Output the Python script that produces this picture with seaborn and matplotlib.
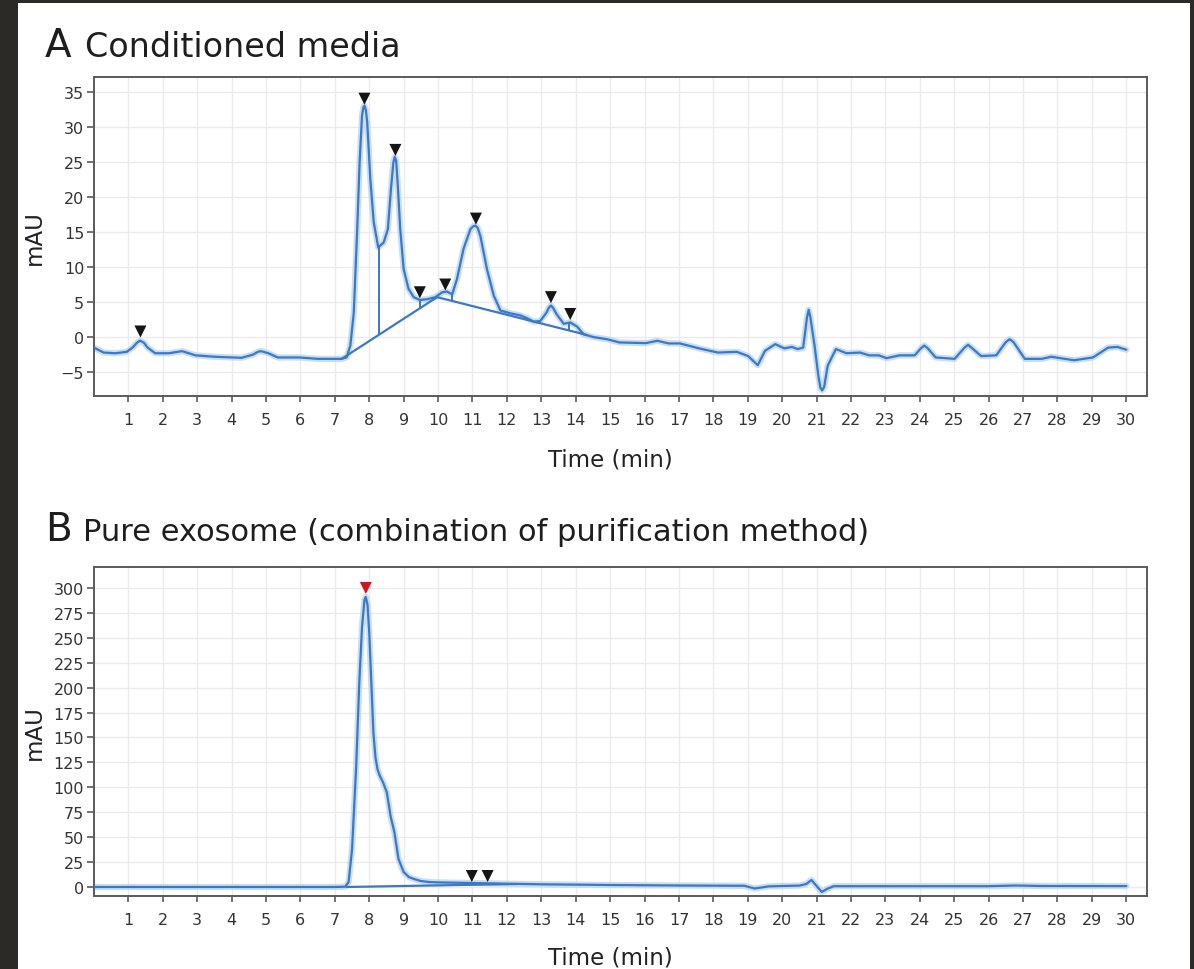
import matplotlib
matplotlib.use('Agg')
import matplotlib.pyplot as plt
import pandas as pd
import seaborn as sns
from matplotlib.patches import Rectangle

# Panel A - conditioned media trace (time in min, absorbance in mAU)
a_time = [0.0, 0.28, 0.62, 0.95, 1.12, 1.25, 1.34, 1.45, 1.56, 1.78, 2.17, 2.56, 2.95, 3.51,
          4.29, 4.62, 4.76, 4.84, 4.93, 5.07, 5.34, 5.96, 6.51, 7.18, 7.34, 7.45, 7.55, 7.65,
          7.72, 7.79, 7.83, 7.86, 7.9, 7.94, 8.03, 8.13, 8.26, 8.42, 8.54, 8.63, 8.7, 8.74,
          8.78, 8.83, 8.9, 9.0, 9.14, 9.29, 9.47, 9.68, 9.92, 10.12, 10.26, 10.41, 10.55,
          10.74, 10.94, 11.02, 11.08, 11.15, 11.23, 11.42, 11.62, 11.81, 12.1, 12.39, 12.59,
          12.78, 12.97, 13.15, 13.22, 13.28, 13.34, 13.44, 13.65, 13.84, 14.04, 14.23, 14.52,
          14.91, 15.27, 16.04, 16.37, 16.7, 17.03, 17.58, 18.13, 18.68, 19.01, 19.29, 19.5,
          19.8, 20.06, 20.28, 20.44, 20.61, 20.72, 20.77, 20.82, 20.94, 21.05, 21.11, 21.16,
          21.22, 21.32, 21.56, 21.87, 22.26, 22.53, 22.81, 23.03, 23.41, 23.85, 24.03, 24.13,
          24.23, 24.46, 25.01, 25.3, 25.4, 25.5, 25.78, 26.22, 26.5, 26.61, 26.72, 27.05,
          27.54, 27.82, 28.48, 29.03, 29.47, 29.74, 30.0]
a_mau = [-1.5, -2.2, -2.3, -2.1, -1.5, -0.8, -0.5, -0.8, -1.5, -2.3, -2.3, -2.0, -2.6, -2.8,
         -2.95, -2.5, -2.1, -2.0, -2.1, -2.3, -2.9, -2.9, -3.1, -3.1, -2.9, -1.2, 3.5, 15.4,
         25.0, 31.6, 32.8, 33.0, 32.4, 30.7, 22.6, 16.4, 12.8, 13.5, 15.4, 21.1, 24.9, 25.7,
         25.2, 21.6, 15.4, 9.7, 6.9, 5.7, 5.3, 5.4, 5.7, 6.4, 6.5, 6.1, 8.3,
         12.6, 15.4, 15.8, 15.9, 15.6, 14.4, 9.7, 5.9, 3.8, 3.4, 3.1, 2.7,
         2.2, 2.3, 3.5, 4.2, 4.5, 4.2, 3.3, 1.9, 2.1, 1.5, 0.4, 0.0,
         -0.3, -0.76, -0.86, -0.52, -0.9, -0.9, -1.6, -2.2, -2.1, -2.7, -4.0, -1.95,
         -1.0, -1.6, -1.4, -1.7, -1.5, 2.8, 3.9, 2.8, -1.2, -5.5, -7.2, -7.6,
         -7.1, -4.1, -1.7, -2.3, -2.2, -2.6, -2.6, -3.0, -2.6, -2.6, -1.6, -1.2,
         -1.6, -2.9, -3.1, -1.5, -1.1, -1.5, -2.7, -2.6, -0.7, -0.3, -0.7, -3.1,
         -3.1, -2.8, -3.3, -2.9, -1.5, -1.4, -1.8]

# integration baseline and peak separation lines (panel A)
a_base_time = [7.2, 9.97, 14.33]
a_base_mau = [-3.1, 5.7, 0.3]
a_drop_time = [8.28, 9.47, 10.41, 13.8]
a_drop_top = [12.8, 5.3, 6.1, 2.0]
a_drop_bottom = [0.4, 4.0, 4.95, 1.05]

# detected peak markers (panel A)
a_peak_time = [1.35, 7.86, 8.76, 9.47, 10.21, 11.1, 13.28, 13.84]
a_peak_mau = [0.8, 34.0, 26.7, 6.4, 7.5, 16.9, 5.7, 3.3]

# Panel B - pure exosome trace
b_time = [0.0, 2.0, 5.0, 7.0, 7.3, 7.4, 7.5, 7.62, 7.71, 7.79, 7.86, 7.9, 7.95, 8.0, 8.06,
          8.12, 8.18, 8.24, 8.3, 8.4, 8.51, 8.62, 8.73, 8.85, 9.0, 9.15, 9.3, 9.5, 9.73, 10.0,
          11.0, 12.0, 13.0, 15.0, 17.0, 18.9, 19.2, 19.4, 19.6, 20.0, 20.5, 20.7, 20.85,
          21.0, 21.15, 21.3, 21.5, 22.0, 26.0, 26.8, 27.5, 30.0]
b_mau = [0.0, 0.0, 0.0, 0.0, 0.3, 5.0, 38.0, 121.0, 205.0, 261.0, 288.0, 291.0, 283.0, 255.0,
         205.0, 155.0, 130.0, 118.0, 112.0, 105.0, 95.0, 71.0, 55.0, 28.0, 15.0, 10.0, 8.0,
         6.0, 5.0, 4.6, 4.0, 3.3, 2.7, 2.0, 1.5, 1.2, -1.5, -0.5, 0.6, 1.0, 1.4, 3.0, 7.0,
         1.0, -5.0, -2.0, 0.8, 0.8, 0.8, 1.5, 1.0, 0.9]
b_base_time = [7.35, 12.3]
b_base_mau = [0.0, 3.0]
b_peak_time = [7.9, 10.98, 11.44]
b_peak_mau = [300.0, 11.0, 11.0]
b_peak_color = ['#d4141c', '#151515', '#151515']

LINE = '#3b79c4'
HALO = '#bcd6f1'

sns.set_theme(style='whitegrid')
plt.rcParams['font.family'] = ['DejaVu Sans']

fig = plt.figure(figsize=(11.94, 9.70), dpi=100)
fig.patch.set_facecolor('#2b2a27')
fig.patches.append(Rectangle((18 / 1194, 0), (1190 - 18) / 1194, 1 - 4 / 970,
                             transform=fig.transFigure, facecolor='white',
                             edgecolor='none', zorder=-10))

ax_a = fig.add_axes([0.0787, 0.5907, 0.8819, 0.3289])
ax_b = fig.add_axes([0.0787, 0.0753, 0.8819, 0.3391])


def draw_trace(ax, t, v):
    sns.lineplot(x=t, y=v, ax=ax, color=HALO, lw=4.5, alpha=0.8, estimator=None, zorder=2)
    sns.lineplot(x=t, y=v, ax=ax, color=LINE, lw=1.6, estimator=None, zorder=3)


def style_axis(ax, ylim, yticks):
    ax.set_facecolor('white')
    ax.set_xlim(0, 30.6)
    ax.set_ylim(*ylim)
    ax.set_xticks(range(1, 31))
    ax.set_yticks(yticks)
    ax.grid(True, color='#ebebeb', lw=1.0)
    for sp in ax.spines.values():
        sp.set_visible(True)
        sp.set_color('#5a5a5a')
        sp.set_linewidth(1.4)
    ax.tick_params(axis='x', direction='out', length=4.5, width=1.2, color='#5a5a5a',
                   labelsize=11.5, labelcolor='#333333', pad=7, bottom=True)
    ax.tick_params(axis='y', direction='out', length=5, width=1.2, color='#5a5a5a',
                   labelsize=11.5, labelcolor='#333333', pad=2, left=True)
    ax.set_xlabel('Time (min)', fontsize=16.5, color='#222222')
    ax.set_ylabel('mAU', fontsize=16.5, color='#222222')
    ax.yaxis.set_label_coords(-0.046, 0.5)


# Panel A
draw_trace(ax_a, a_time, a_mau)
ax_a.plot(a_base_time, a_base_mau, color=LINE, lw=1.6, zorder=3)
ax_a.vlines(a_drop_time, a_drop_bottom, a_drop_top, color=LINE, lw=1.4, zorder=3)
sns.scatterplot(x=a_peak_time, y=a_peak_mau, ax=ax_a, marker='v', s=75, color='#151515',
                edgecolor='none', zorder=4)
style_axis(ax_a, (-8.4, 37.1), [-5, 0, 5, 10, 15, 20, 25, 30, 35])
ax_a.xaxis.set_label_coords(0.49, -0.16)

# Panel B
draw_trace(ax_b, b_time, b_mau)
ax_b.plot(b_base_time, b_base_mau, color=LINE, lw=1.6, zorder=3)
peaks_b = pd.DataFrame({'t': b_peak_time, 'v': b_peak_mau, 'c': b_peak_color})
sns.scatterplot(data=peaks_b, x='t', y='v', ax=ax_b, marker='v', s=75, hue='c',
                palette={c: c for c in b_peak_color}, edgecolor='none', legend=False, zorder=4)
style_axis(ax_b, (-9, 321), list(range(0, 301, 25)))
ax_b.xaxis.set_label_coords(0.49, -0.152)

# panel titles
fig.text(45 / 1194, 1 - 57 / 970, 'A', fontsize=28, color='#1e1e1e', va='baseline')
fig.text(85 / 1194, 1 - 57 / 970, 'Conditioned media', fontsize=24, color='#1e1e1e',
         va='baseline')
fig.text(45 / 1194, 1 - 541 / 970, 'B', fontsize=28, color='#1e1e1e', va='baseline')
fig.text(83 / 1194, 1 - 541 / 970, 'Pure exosome (combination of purification method)',
         fontsize=22, color='#1e1e1e', va='baseline')

fig.savefig('out.png', dpi=100, facecolor=fig.get_facecolor())
